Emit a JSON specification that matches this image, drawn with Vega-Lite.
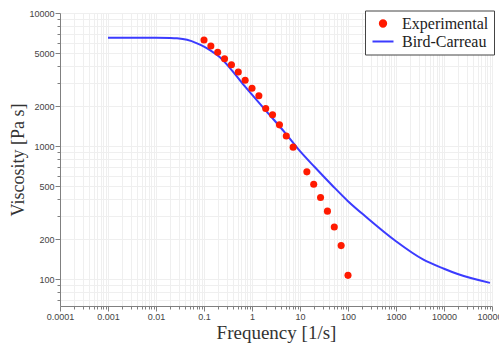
{
  "$schema": "https://vega.github.io/schema/vega-lite/v6.json",
  "width": 432,
  "height": 293,
  "autosize": {"type": "none"},
  "padding": {"left": 60, "top": 13, "right": 7, "bottom": 39},
  "background": "white",
  "config": {
    "view": {"stroke": null},
    "axis": {
      "domainColor": "#808080",
      "tickColor": "#808080",
      "gridColor": "#efefef",
      "gridWidth": 1,
      "labelFont": "Liberation Sans",
      "labelFontSize": 9,
      "labelColor": "#444444",
      "titleFont": "Liberation Serif",
      "titleFontWeight": "normal",
      "titleColor": "#333333"
    }
  },
  "data": {
    "values": [
      {"series": "Bird-Carreau", "freq": 0.001, "visc": 6520},
      {"series": "Bird-Carreau", "freq": 0.003, "visc": 6520},
      {"series": "Bird-Carreau", "freq": 0.01, "visc": 6515},
      {"series": "Bird-Carreau", "freq": 0.02, "visc": 6490},
      {"series": "Bird-Carreau", "freq": 0.0274, "visc": 6450},
      {"series": "Bird-Carreau", "freq": 0.0443, "visc": 6290},
      {"series": "Bird-Carreau", "freq": 0.0715, "visc": 5920},
      {"series": "Bird-Carreau", "freq": 0.1, "visc": 5590},
      {"series": "Bird-Carreau", "freq": 0.133, "visc": 5270},
      {"series": "Bird-Carreau", "freq": 0.215, "visc": 4650},
      {"series": "Bird-Carreau", "freq": 0.348, "visc": 3860},
      {"series": "Bird-Carreau", "freq": 0.6, "visc": 3030},
      {"series": "Bird-Carreau", "freq": 1, "visc": 2440},
      {"series": "Bird-Carreau", "freq": 2, "visc": 1827},
      {"series": "Bird-Carreau", "freq": 5, "visc": 1247},
      {"series": "Bird-Carreau", "freq": 10, "visc": 917},
      {"series": "Bird-Carreau", "freq": 20, "visc": 700},
      {"series": "Bird-Carreau", "freq": 48.7, "visc": 500},
      {"series": "Bird-Carreau", "freq": 100, "visc": 386},
      {"series": "Bird-Carreau", "freq": 249, "visc": 290},
      {"series": "Bird-Carreau", "freq": 1000, "visc": 193},
      {"series": "Bird-Carreau", "freq": 3650, "visc": 141},
      {"series": "Bird-Carreau", "freq": 10000, "visc": 120},
      {"series": "Bird-Carreau", "freq": 18600, "visc": 110},
      {"series": "Bird-Carreau", "freq": 90900, "visc": 94},
      {"series": "Experimental", "freq": 0.1, "visc": 6270},
      {"series": "Experimental", "freq": 0.139, "visc": 5650},
      {"series": "Experimental", "freq": 0.193, "visc": 5070},
      {"series": "Experimental", "freq": 0.268, "visc": 4530},
      {"series": "Experimental", "freq": 0.373, "visc": 4090},
      {"series": "Experimental", "freq": 0.518, "visc": 3600},
      {"series": "Experimental", "freq": 0.72, "visc": 3130},
      {"series": "Experimental", "freq": 1, "visc": 2720},
      {"series": "Experimental", "freq": 1.39, "visc": 2390},
      {"series": "Experimental", "freq": 1.93, "visc": 1920},
      {"series": "Experimental", "freq": 2.68, "visc": 1720},
      {"series": "Experimental", "freq": 3.73, "visc": 1445},
      {"series": "Experimental", "freq": 5.18, "visc": 1190},
      {"series": "Experimental", "freq": 7.2, "visc": 983},
      {"series": "Experimental", "freq": 13.9, "visc": 641},
      {"series": "Experimental", "freq": 19.3, "visc": 518},
      {"series": "Experimental", "freq": 26.8, "visc": 411},
      {"series": "Experimental", "freq": 37.3, "visc": 325},
      {"series": "Experimental", "freq": 51.8, "visc": 247},
      {"series": "Experimental", "freq": 72, "visc": 179},
      {"series": "Experimental", "freq": 100, "visc": 107}
    ]
  },
  "encoding": {
    "x": {
      "field": "freq",
      "type": "quantitative",
      "scale": {"type": "log", "domain": [0.0001, 100000], "nice": false},
      "axis": {
        "title": "Frequency [1/s]",
        "titleFontSize": 19,
        "titlePadding": 2,
        "grid": true,
        "values": [0.0001,0.0002,0.0003,0.0004,0.0005,0.0006,0.0007,0.0008,0.0009,0.001,0.002,0.003,0.004,0.005,0.006,0.007,0.008,0.009,0.01,0.02,0.03,0.04,0.05,0.06,0.07,0.08,0.09,0.1,0.2,0.3,0.4,0.5,0.6,0.7,0.8,0.9,1,2,3,4,5,6,7,8,9,10,20,30,40,50,60,70,80,90,100,200,300,400,500,600,700,800,900,1000,2000,3000,4000,5000,6000,7000,8000,9000,10000,20000,30000,40000,50000,60000,70000,80000,90000,100000],
        "labelExpr": "abs(log(datum.value)/LN10 - round(log(datum.value)/LN10)) < 0.000001 ? format(datum.value, '~g') : ''",
        "tickSize": {"condition": {"test": "abs(log(datum.value)/LN10 - round(log(datum.value)/LN10)) < 0.000001", "value": 5}, "value": 3},
        "labelPadding": 1,
        "labelOverlap": false,
        "labelFlush": false
      }
    },
    "y": {
      "field": "visc",
      "type": "quantitative",
      "scale": {"type": "log", "domain": [63, 10000], "nice": false},
      "axis": {
        "title": "Viscosity [Pa s]",
        "titleFontSize": 18,
        "titlePadding": 1,
        "grid": true,
        "values": [70,80,90,100,200,300,400,500,600,700,800,900,1000,2000,3000,4000,5000,6000,7000,8000,9000,10000],
        "labelExpr": "indexof([100,200,500,1000,2000,5000,10000], datum.value) >= 0 ? format(datum.value, 'd') : ''",
        "tickSize": {"condition": {"test": "indexof([100,200,500,1000,2000,5000,10000], datum.value) >= 0", "value": 5}, "value": 3},
        "labelPadding": 1,
        "labelOverlap": false,
        "labelFlush": false
      }
    },
    "color": {
      "field": "series",
      "type": "nominal",
      "scale": {"domain": ["Experimental", "Bird-Carreau"], "range": ["#ff1a00", "#3b3bff"]},
      "legend": {
        "title": null,
        "orient": "none",
        "legendX": 305,
        "legendY": -2.5,
        "padding": 5,
        "strokeColor": "#444444",
        "fillColor": "white",
        "labelFont": "Liberation Serif",
        "labelFontSize": 16,
        "labelColor": "#222222",
        "labelOffset": 11,
        "symbolOffset": 5,
        "rowPadding": 2,
        "symbolSize": 40,
        "symbolType": "circle",
        "encode": {
          "symbols": {
            "update": {
              "shape": {"signal": "datum.value === 'Experimental' ? 'circle' : 'M-5.25,0H5.25'"},
              "size": {"signal": "datum.value === 'Experimental' ? 40 : 16"},
              "strokeWidth": {"value": 2},
              "stroke": {"signal": "datum.value === 'Experimental' ? 'transparent' : '#3b3bff'"},
              "fill": {"signal": "datum.value === 'Experimental' ? '#ff1a00' : 'transparent'"}
            }
          }
        }
      }
    }
  },
  "layer": [
    {
      "transform": [{"filter": "datum.series === 'Bird-Carreau'"}],
      "mark": {"type": "line", "strokeWidth": 2, "interpolate": "monotone"}
    },
    {
      "transform": [{"filter": "datum.series === 'Experimental'"}],
      "mark": {"type": "circle", "size": 50, "opacity": 1}
    }
  ]
}
